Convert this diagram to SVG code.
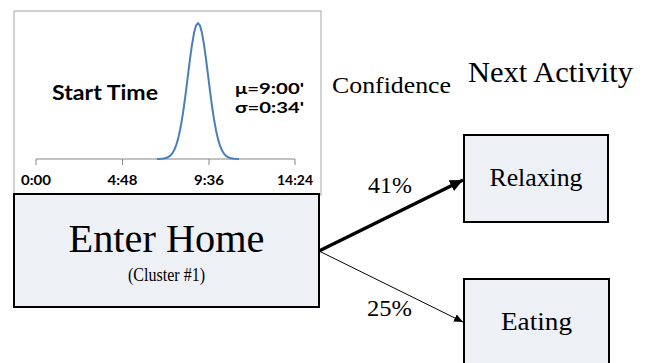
<svg xmlns="http://www.w3.org/2000/svg" width="648" height="363" viewBox="0 0 648 363">
<style>
.serif{font-family:"Liberation Serif","DejaVu Serif",serif;fill:#000}
.sans{font-family:Lato,"Open Sans","Liberation Sans",sans-serif;font-weight:bold;fill:#000}
.box{fill:#EDF0F5;stroke:#000;stroke-width:2}
.conn{fill:none;stroke:#000}
</style>
<defs>
<marker id="headThick" markerUnits="userSpaceOnUse" markerWidth="14" markerHeight="12" refX="13" refY="6" orient="auto">
<path d="M0,0 L13,6 L0,12 Z" fill="#000"/>
</marker>
<marker id="headThin" markerUnits="userSpaceOnUse" markerWidth="10" markerHeight="8" refX="9" refY="4" orient="auto">
<path d="M0,0 L9,4 L0,8 Z" fill="#000"/>
</marker>
</defs>
<rect width="648" height="363" fill="#fff"/>
<g id="chart">
<rect x="14" y="11" width="307" height="184" fill="#fff" stroke="#A6A6A6" stroke-width="1"/>
<line x1="36" y1="159" x2="295" y2="159" stroke="#868686" stroke-width="1"/>
<g stroke="#868686" stroke-width="1">
<line x1="36" y1="159" x2="36" y2="165"/>
<line x1="122.5" y1="159" x2="122.5" y2="165"/>
<line x1="209" y1="159" x2="209" y2="165"/>
<line x1="295" y1="159" x2="295" y2="165"/>
</g>
<polyline fill="none" stroke="#4A7EBB" stroke-width="2" stroke-linejoin="round" points="157,159 162,158.7 165,158.3 168,157.2 170,155.9 172,153.7 174,150.5 176,145.7 178,139.1 180,130.3 182,119.3 184,106 186,90.9 188,74.9 190,59 192,44.6 194,33.1 196,25.6 198,23 200,25.6 202,33.1 204,44.6 206,59 208,74.9 210,90.9 212,106 214,119.3 216,130.3 218,139.1 220,145.7 222,150.5 224,153.7 226,155.9 228,157.2 231,158.3 234,158.7 239,159"/>
<text class="sans" x="52" y="100" font-size="21" textLength="106" lengthAdjust="spacingAndGlyphs">Start Time</text>
<text class="sans" x="235" y="94" font-size="15" textLength="69" lengthAdjust="spacingAndGlyphs">μ=9:00'</text>
<text class="sans" x="235" y="113" font-size="15" textLength="69" lengthAdjust="spacingAndGlyphs">σ=0:34'</text>
<text class="sans" x="36" y="185" font-size="14" text-anchor="middle" textLength="30" lengthAdjust="spacingAndGlyphs">0:00</text>
<text class="sans" x="122.5" y="185" font-size="14" text-anchor="middle" textLength="30" lengthAdjust="spacingAndGlyphs">4:48</text>
<text class="sans" x="209" y="185" font-size="14" text-anchor="middle" textLength="30" lengthAdjust="spacingAndGlyphs">9:36</text>
<text class="sans" x="295" y="185" font-size="14" text-anchor="middle" textLength="36" lengthAdjust="spacingAndGlyphs">14:24</text>
</g>
<text class="serif" x="332" y="93" font-size="24" textLength="119" lengthAdjust="spacingAndGlyphs">Confidence</text>
<text class="serif" x="468" y="82" font-size="30" textLength="165" lengthAdjust="spacingAndGlyphs">Next Activity</text>
<g id="enter-home">
<rect class="box" x="14" y="194" width="305" height="113"/>
<text class="serif" x="166.5" y="252" font-size="39" text-anchor="middle" textLength="196" lengthAdjust="spacingAndGlyphs">Enter Home</text>
<text class="serif" x="166.5" y="281" font-size="18" text-anchor="middle" textLength="77" lengthAdjust="spacingAndGlyphs">(Cluster #1)</text>
</g>
<g id="relaxing">
<rect class="box" x="464" y="135" width="144" height="87"/>
<text class="serif" x="536" y="186" font-size="25" text-anchor="middle" textLength="93" lengthAdjust="spacingAndGlyphs">Relaxing</text>
</g>
<g id="eating">
<rect class="box" x="464" y="279" width="145" height="100"/>
<text class="serif" x="536.5" y="330" font-size="25" text-anchor="middle" textLength="71" lengthAdjust="spacingAndGlyphs">Eating</text>
</g>
<g id="connectors">
<path class="conn" d="M319,251 L463,180" stroke-width="3.5" marker-end="url(#headThick)"/>
<path class="conn" d="M319,251 L463,322" stroke-width="1" marker-end="url(#headThin)"/>
<text class="serif" x="368" y="193" font-size="23" textLength="44" lengthAdjust="spacingAndGlyphs">41%</text>
<text class="serif" x="367" y="316" font-size="23" textLength="45" lengthAdjust="spacingAndGlyphs">25%</text>
</g>
</svg>
